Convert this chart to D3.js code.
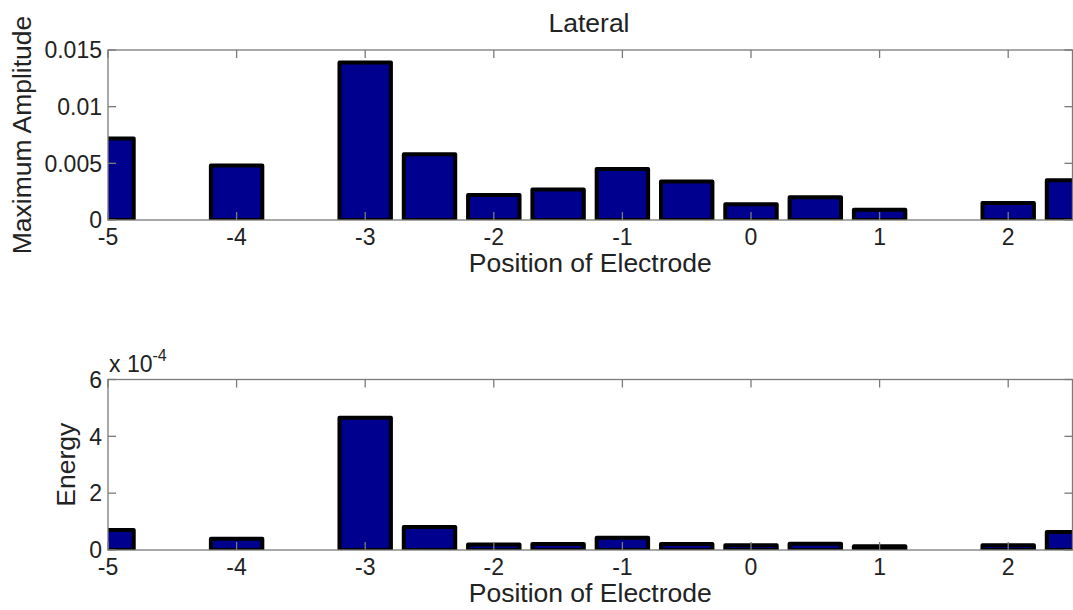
<!DOCTYPE html>
<html>
<head>
<meta charset="utf-8">
<script src="https://cdn.jsdelivr.net/npm/d3@7"></script>
<style>
  body { margin: 0; background: #fff; }
  text { font-family: "Liberation Sans", Arial, sans-serif; fill: #222; }
</style>
</head>
<body>
<svg width="1073" height="610"></svg>
<script>
var svg = d3.select("svg");

/* electrode positions and the two measured series */
var positions = [-5, -4.5, -4, -3.5, -3, -2.5, -2, -1.5, -1, -0.5, 0, 0.5, 1, 1.5, 2, 2.5];
var amplitude = [0.0072, 0, 0.0048, 0, 0.0139, 0.0058, 0.0022, 0.0027, 0.0045, 0.0034, 0.0014, 0.002, 0.0009, 0, 0.0015, 0.0035];
var energy = [0.7e-4, 0, 0.4e-4, 0, 4.65e-4, 0.81e-4, 0.19e-4, 0.21e-4, 0.43e-4, 0.21e-4, 0.17e-4, 0.22e-4, 0.13e-4, 0, 0.17e-4, 0.63e-4];

var xTicks = [-5, -4, -3, -2, -1, 0, 1, 2];
var ampTicks = [0, 0.005, 0.01, 0.015];
var energyTicks = [0, 2e-4, 4e-4, 6e-4];

var left = 108, right = 1072.5;

var x = d3.scaleLinear().domain([-5, 2.5]).range([left, right]);

function panel(id, top, bottom, values, yMax, ticks, fmt, ylabel, ylabelX) {
  var y = d3.scaleLinear().domain([0, yMax]).range([bottom, top]);
  var g = svg.append("g");

  g.append("clipPath").attr("id", id)
    .append("rect").attr("x", left).attr("y", top)
    .attr("width", right - left).attr("height", bottom - top);

  /* bars, width 0.8 of the 0.5 spacing like matlab's bar() */
  g.append("g").attr("clip-path", "url(#" + id + ")")
    .selectAll("rect")
    .data(values.map(function(v, i) { return {p: positions[i], v: v}; }).filter(function(d) { return d.v > 0; }))
    .enter().append("rect")
      .attr("x", function(d) { return x(d.p - 0.2); })
      .attr("width", x(0.2) - x(-0.2))
      .attr("y", function(d) { return y(d.v); })
      .attr("height", function(d) { return y(0) - y(d.v); })
      .style("fill", "#00008f")
      .style("stroke", "#000")
      .style("stroke-width", 4)
      .style("stroke-linejoin", "round");

  // box
  g.append("rect").attr("x", left).attr("y", top)
    .attr("width", right - left).attr("height", bottom - top)
    .style("fill", "none").style("stroke", "#7a7a7a").style("stroke-width", 1.3);

  // inward ticks, all four sides
  var tl = 8;
  xTicks.forEach(function(t) {
    g.append("line").attr("x1", x(t)).attr("x2", x(t)).attr("y1", bottom).attr("y2", bottom - tl);
    g.append("line").attr("x1", x(t)).attr("x2", x(t)).attr("y1", top).attr("y2", top + tl);
  });
  ticks.forEach(function(t) {
    g.append("line").attr("x1", left).attr("x2", left + tl).attr("y1", y(t)).attr("y2", y(t));
    g.append("line").attr("x1", right).attr("x2", right - tl).attr("y1", y(t)).attr("y2", y(t));
  });
  g.selectAll("line").style("stroke", "#7a7a7a").style("stroke-width", 1.3);

  g.selectAll(".xt").data(xTicks).enter().append("text")
    .attr("x", function(d) { return x(d); })
    .attr("y", bottom + 25)
    .attr("text-anchor", "middle")
    .style("font-size", "23px")
    .text(function(d) { return d; });

  g.selectAll(".yt").data(ticks).enter().append("text")
    .attr("x", left - 6)
    .attr("y", function(d) { return y(d); })
    .attr("dy", "0.36em")
    .attr("text-anchor", "end")
    .style("font-size", "23px")
    .text(fmt);

  g.append("text")
    .attr("x", (left + right) / 2)
    .attr("y", bottom + 52)
    .attr("text-anchor", "middle")
    .style("font-size", "26.5px")
    .text("Position of Electrode");

  g.append("text")
    .attr("transform", "translate(" + ylabelX + "," + (top + bottom) / 2 + ") rotate(-90)")
    .attr("text-anchor", "middle")
    .style("font-size", "26.5px")
    .text(ylabel);

  return g;
}

panel("clipA", 50, 220, amplitude, 0.015, ampTicks,
  function(d) { return d === 0 ? "0" : String(d); }, "Maximum Amplitude", 31);

var g2 = panel("clipB", 379.5, 550, energy, 6e-4, energyTicks,
  function(d) { return String(Math.round(d * 1e4)); }, "Energy", 75);

// matlab exponent label
var ex = g2.append("text").attr("x", 109).attr("y", 371.5).style("font-size", "23px");
ex.append("tspan").text("x 10");
ex.append("tspan").attr("dy", -11).style("font-size", "16px").text("-4");

svg.append("text")
  .attr("x", 589)
  .attr("y", 32)
  .attr("text-anchor", "middle")
  .style("font-size", "26.5px")
  .text("Lateral");
</script>
</body>
</html>
